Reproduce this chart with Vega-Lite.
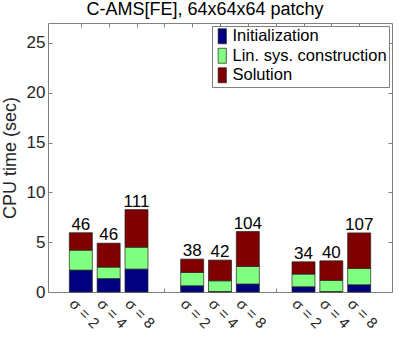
{
  "$schema": "https://vega.github.io/schema/vega-lite/v6.json",
  "width": 344,
  "height": 269,
  "autosize": {"type": "none"},
  "padding": {"left": 48, "top": 23, "right": 7, "bottom": 53},
  "background": "white",
  "config": {
    "view": {"stroke": "#808080", "strokeWidth": 1},
    "font": "Liberation Sans",
    "axis": {
      "grid": false,
      "domain": false,
      "tickColor": "#808080",
      "labelColor": "#262626",
      "titleColor": "#262626",
      "labelFont": "Liberation Sans",
      "titleFont": "Liberation Sans",
      "labelFontSize": 17,
      "titleFontSize": 18,
      "titleFontWeight": "normal"
    },
    "legend": {
      "orient": "top-right",
      "offset": 3,
      "fillColor": "white",
      "strokeColor": "#808080",
      "padding": 2,
      "symbolType": "M-0.55,-1H0.55V1H-0.55Z",
      "symbolSize": 225,
      "symbolStrokeColor": "#222222",
      "symbolStrokeWidth": 0.7,
      "labelFontSize": 16.5,
      "labelFont": "Liberation Sans",
      "labelColor": "#000000",
      "rowPadding": 0.5,
      "labelOffset": 2
    }
  },
  "title": {
    "text": "C-AMS[FE], 64x64x64 patchy",
    "fontSize": 18,
    "fontWeight": "normal",
    "font": "Liberation Sans",
    "color": "#000000",
    "anchor": "middle",
    "dx": -15,
    "dy": 15,
    "baseline": "alphabetic",
    "offset": 5
  },
  "data": {
    "values": [
      {"pos": 1, "iters": "46", "comp": "Initialization", "ord": 1, "value": 2.2},
      {"pos": 1, "iters": "46", "comp": "Lin. sys. construction", "ord": 2, "value": 2.0},
      {"pos": 1, "iters": "46", "comp": "Solution", "ord": 3, "value": 1.75},
      {"pos": 2, "iters": "46", "comp": "Initialization", "ord": 1, "value": 1.35},
      {"pos": 2, "iters": "46", "comp": "Lin. sys. construction", "ord": 2, "value": 1.15},
      {"pos": 2, "iters": "46", "comp": "Solution", "ord": 3, "value": 2.4},
      {"pos": 3, "iters": "111", "comp": "Initialization", "ord": 1, "value": 2.3},
      {"pos": 3, "iters": "111", "comp": "Lin. sys. construction", "ord": 2, "value": 2.2},
      {"pos": 3, "iters": "111", "comp": "Solution", "ord": 3, "value": 3.77},
      {"pos": 5, "iters": "38", "comp": "Initialization", "ord": 1, "value": 0.63},
      {"pos": 5, "iters": "38", "comp": "Lin. sys. construction", "ord": 2, "value": 1.34},
      {"pos": 5, "iters": "38", "comp": "Solution", "ord": 3, "value": 1.33},
      {"pos": 6, "iters": "42", "comp": "Initialization", "ord": 1, "value": 0.05},
      {"pos": 6, "iters": "42", "comp": "Lin. sys. construction", "ord": 2, "value": 1.08},
      {"pos": 6, "iters": "42", "comp": "Solution", "ord": 3, "value": 2.07},
      {"pos": 7, "iters": "104", "comp": "Initialization", "ord": 1, "value": 0.8},
      {"pos": 7, "iters": "104", "comp": "Lin. sys. construction", "ord": 2, "value": 1.77},
      {"pos": 7, "iters": "104", "comp": "Solution", "ord": 3, "value": 3.5},
      {"pos": 9, "iters": "34", "comp": "Initialization", "ord": 1, "value": 0.53},
      {"pos": 9, "iters": "34", "comp": "Lin. sys. construction", "ord": 2, "value": 1.27},
      {"pos": 9, "iters": "34", "comp": "Solution", "ord": 3, "value": 1.23},
      {"pos": 10, "iters": "40", "comp": "Initialization", "ord": 1, "value": 0.05},
      {"pos": 10, "iters": "40", "comp": "Lin. sys. construction", "ord": 2, "value": 1.12},
      {"pos": 10, "iters": "40", "comp": "Solution", "ord": 3, "value": 1.96},
      {"pos": 11, "iters": "107", "comp": "Initialization", "ord": 1, "value": 0.73},
      {"pos": 11, "iters": "107", "comp": "Lin. sys. construction", "ord": 2, "value": 1.64},
      {"pos": 11, "iters": "107", "comp": "Solution", "ord": 3, "value": 3.56}
    ]
  },
  "layer": [
    {
      "mark": {"type": "bar", "size": 23, "stroke": "#222222", "strokeWidth": 0.7},
      "encoding": {
        "x": {
          "field": "pos",
          "type": "quantitative",
          "scale": {"domain": [0, 12], "nice": false, "zero": false},
          "axis": {
            "orient": "bottom",
            "values": [1, 2, 3, 4, 5, 6, 7, 8, 9, 10, 11],
            "labelExpr": "['', 'σ = 2', 'σ = 4', 'σ = 8', '', 'σ = 2', 'σ = 4', 'σ = 8', '', 'σ = 2', 'σ = 4', 'σ = 8'][datum.value]",
            "labelAngle": 45,
            "labelAlign": "center",
            "labelBaseline": "middle",
            "labelPadding": 25,
            "labelOffset": 3,
            "labelFontSize": 15,
            "labelOverlap": false,
            "labelBound": false,
            "tickSize": -4,
            "title": null
          }
        },
        "y": {
          "field": "value",
          "type": "quantitative",
          "stack": "zero",
          "scale": {"domain": [0, 27], "nice": false},
          "axis": {
            "orient": "left",
            "values": [0, 5, 10, 15, 20, 25],
            "tickSize": -4,
            "labelPadding": 7,
            "title": "CPU time (sec)",
            "titlePadding": 7
          }
        },
        "color": {
          "field": "comp",
          "type": "nominal",
          "scale": {
            "domain": ["Initialization", "Lin. sys. construction", "Solution"],
            "range": ["#000080", "#80ff80", "#800000"]
          },
          "legend": {"title": null}
        },
        "order": {"field": "ord", "type": "quantitative"}
      }
    },
    {
      "transform": [
        {"aggregate": [{"op": "sum", "field": "value", "as": "total"}], "groupby": ["pos", "iters"]}
      ],
      "mark": {"type": "text", "baseline": "alphabetic", "dy": -3, "fontSize": 17, "font": "Liberation Sans", "color": "#000000"},
      "encoding": {
        "x": {
          "field": "pos",
          "type": "quantitative",
          "scale": {"domain": [0, 12], "nice": false, "zero": false},
          "axis": {"orient": "top", "values": [1, 2, 3, 4, 5, 6, 7, 8, 9, 10, 11], "labels": false, "tickSize": -4, "title": null}
        },
        "y": {
          "field": "total",
          "type": "quantitative",
          "scale": {"domain": [0, 27], "nice": false},
          "axis": {"orient": "right", "values": [0, 5, 10, 15, 20, 25], "labels": false, "tickSize": -4, "title": null}
        },
        "text": {"field": "iters"}
      }
    }
  ],
  "resolve": {"axis": {"x": "independent", "y": "independent"}}
}
